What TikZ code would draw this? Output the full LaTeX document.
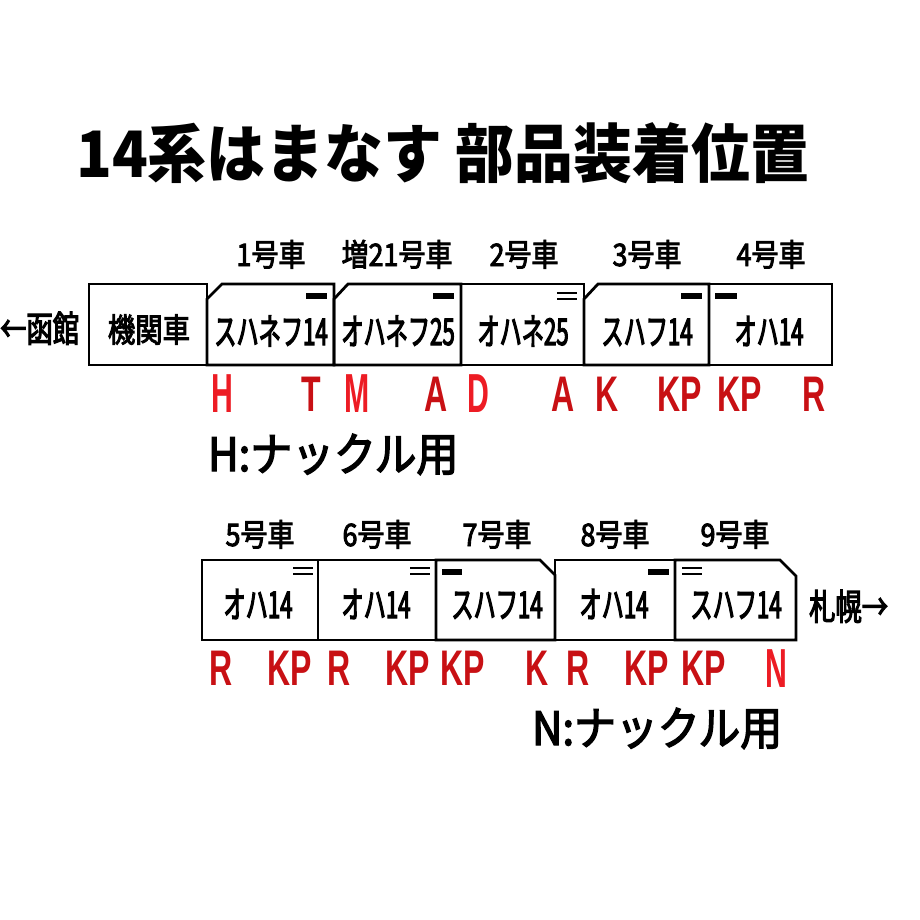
\documentclass[tikz,border=0pt]{standalone}
\usepackage{fontspec}
\newfontfamily\titlefont[FakeStretch=0.92]{Noto Sans CJK JP}
\newfontfamily\carfont[FakeStretch=0.6,FakeBold=3]{Noto Sans CJK JP}
\newfontfamily\numfont[FakeStretch=0.87,FakeBold=2.8]{Noto Sans CJK JP}
\newfontfamily\locofont[FakeStretch=0.83,FakeBold=3]{Noto Sans CJK JP}
\newfontfamily\notefont[FakeStretch=0.91,FakeBold=3]{Noto Sans CJK JP}
\newfontfamily\placefont[FakeStretch=0.73,FakeBold=3]{Noto Sans CJK JP}
\newfontfamily\brightfont[FakeStretch=0.55]{Liberation Sans}
\newfontfamily\darkfont[FakeStretch=0.64]{Liberation Sans}
\definecolor{brightred}{RGB}{237,28,36}
\definecolor{darkred}{RGB}{200,16,20}
\begin{document}
\begin{tikzpicture}[x=1pt,y=-1pt,
  carline/.style={draw=black,line width=2.8pt,line join=miter},
  bar/.style={fill=black},
  dbl/.style={draw=black,line width=1.6pt},
  carname/.style={anchor=base,inner sep=0pt,font=\carfont\fontsize{37}{37}\selectfont},
  carno/.style={anchor=base,inner sep=0pt,font=\numfont\fontsize{31}{31}\selectfont},
  brt/.style={anchor=base,inner sep=0pt,text=brightred,font=\brightfont\bfseries\fontsize{55}{55}\selectfont},
  drk/.style={anchor=base,inner sep=0pt,text=darkred,font=\darkfont\bfseries\fontsize{50}{50}\selectfont},
  note/.style={anchor=base west,inner sep=0pt,font=\notefont\fontsize{46}{46}\selectfont},
  place/.style={inner sep=0pt,font=\placefont\fontsize{36}{36}\selectfont}]
\useasboundingbox[fill=white] (0,0) rectangle (920,920);

% title
\node[anchor=base west,inner sep=0pt,font=\titlefont\bfseries\fontsize{64}{64}\selectfont] (title) at (76,178) {14系はまなす 部品装着位置};

% ---------- row 1 ----------
\draw[carline] (89,284) rectangle (207,365);
\draw[carline] (207,365) -- (207,299) -- (222,284) -- (334,284) -- (334,365) -- cycle;
\draw[carline] (334,365) -- (334,299) -- (348,284) -- (461,284) -- (461,365) -- cycle;
\draw[carline] (461,284) rectangle (584,365);
\draw[carline] (584,365) -- (584,299) -- (598,284) -- (709,284) -- (709,365) -- cycle;
\draw[carline] (709,284) rectangle (832,365);

\fill[bar] (306,293) rectangle (327,299);
\fill[bar] (433,293) rectangle (454,299);
\draw[dbl] (557,293) -- (577,293);
\draw[dbl] (557,299) -- (577,299);
\fill[bar] (681,293) rectangle (702,299);
\fill[bar] (715,293) rectangle (737,299);

\node[anchor=base,inner sep=0pt,font=\locofont\fontsize{33}{33}\selectfont] (loco) at (149,342) {機関車};
\node[carname] (c1) at (271,345) {スハネフ14};
\node[carname] (c21) at (398,345) {オハネフ25};
\node[carname] (c2) at (523,345) {オハネ25};
\node[carname] (c3) at (647,345) {スハフ14};
\node[carname] (c4) at (769,345) {オハ14};

\node[carno] (n1) at (271,266) {1号車};
\node[carno] (n21) at (397,266) {増21号車};
\node[carno] (n2) at (524,266) {2号車};
\node[carno] (n3) at (647,266) {3号車};
\node[carno] (n4) at (771,266) {4号車};

\node[place,anchor=base west] (hako) at (0,342) {←函館};

\node[brt] (r1a) at (222,412) {H};
\node[drk] (r1b) at (311,411) {T};
\node[brt] (r1c) at (357,412) {M};
\node[drk] (r1d) at (436,411) {A};
\node[brt] (r1e) at (478,412) {D};
\node[drk] (r1f) at (563,411) {A};
\node[drk] (r1g) at (607,411) {K};
\node[drk] (r1h) at (680,411) {KP};
\node[drk] (r1i) at (740,411) {KP};
\node[drk] (r1j) at (814,411) {R};

\node[note] (noteH) at (208,471) {H:ナックル用};

% ---------- row 2 ----------
\draw[carline] (202,560) rectangle (318,640);
\draw[carline] (318,560) rectangle (436,640);
\draw[carline] (436,560) -- (540,560) -- (555,575) -- (555,640) -- (436,640) -- cycle;
\draw[carline] (555,560) rectangle (675,640);
\draw[carline] (675,560) -- (780,560) -- (796,576) -- (796,640) -- (675,640) -- cycle;

\draw[dbl] (293,568) -- (313,568);
\draw[dbl] (293,574) -- (313,574);
\draw[dbl] (410,568) -- (430,568);
\draw[dbl] (410,574) -- (430,574);
\fill[bar] (442,569) rectangle (462,575);
\fill[bar] (648,569) rectangle (669,575);
\draw[dbl] (682,568) -- (702,568);
\draw[dbl] (682,574) -- (702,574);

\node[carname] (c5) at (258,618) {オハ14};
\node[carname] (c6) at (376,618) {オハ14};
\node[carname] (c7) at (497,618) {スハフ14};
\node[carname] (c8) at (614,618) {オハ14};
\node[carname] (c9) at (736,618) {スハフ14};

\node[carno] (n5) at (260,546) {5号車};
\node[carno] (n6) at (377,546) {6号車};
\node[carno] (n7) at (497,546) {7号車};
\node[carno] (n8) at (615,546) {8号車};
\node[carno] (n9) at (735,546) {9号車};

\node[place,anchor=base west] (sapporo) at (809,620) {札幌→};

\node[drk] (r2a) at (221,685) {R};
\node[drk] (r2b) at (290,685) {KP};
\node[drk] (r2c) at (339,685) {R};
\node[drk] (r2d) at (408,685) {KP};
\node[drk] (r2e) at (463,685) {KP};
\node[drk] (r2f) at (537,685) {K};
\node[drk] (r2g) at (578,685) {R};
\node[drk] (r2h) at (647,685) {KP};
\node[drk] (r2i) at (704,685) {KP};
\node[brt] (r2j) at (776,687) {N};

\node[note] (noteN) at (532,745) {N:ナックル用};
\end{tikzpicture}
\end{document}
